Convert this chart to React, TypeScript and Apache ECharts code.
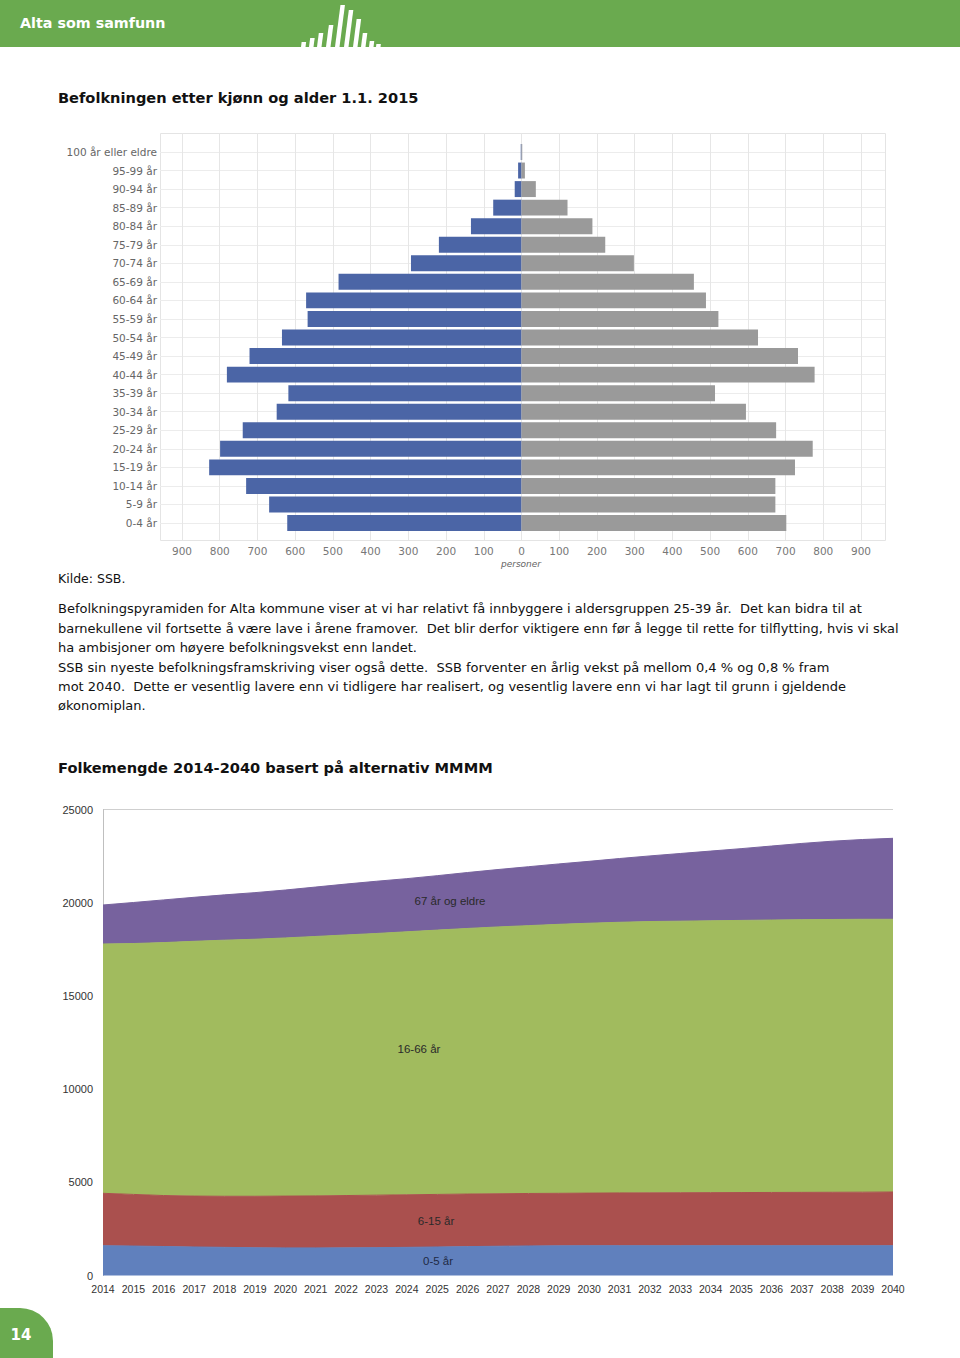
import React, { useEffect, useRef } from "react";
import * as echarts from "echarts";

// ---------- Population pyramid 1.1.2015 ----------
const ageGroups = [
  "0-4 år", "5-9 år", "10-14 år", "15-19 år", "20-24 år", "25-29 år", "30-34 år",
  "35-39 år", "40-44 år", "45-49 år", "50-54 år", "55-59 år", "60-64 år", "65-69 år",
  "70-74 år", "75-79 år", "80-84 år", "85-89 år", "90-94 år", "95-99 år", "100 år eller eldre",
];
const menCounts = [621, 669, 730, 828, 799, 739, 649, 618, 781, 721, 635, 567, 571, 485, 293, 219, 134, 75, 18, 9, 2];
const womenCounts = [702, 673, 673, 725, 772, 675, 595, 513, 777, 733, 627, 522, 489, 457, 298, 222, 188, 122, 38, 9, 2];

// ---------- Folkemengde 2014-2040 ----------
const years = [
  "2014", "2015", "2016", "2017", "2018", "2019", "2020", "2021", "2022", "2023", "2024", "2025", "2026", "2027",
  "2028", "2029", "2030", "2031", "2032", "2033", "2034", "2035", "2036", "2037", "2038", "2039", "2040",
];
const age0to5 = [1600, 1580, 1555, 1530, 1510, 1490, 1480, 1480, 1485, 1495, 1510, 1530, 1550, 1570, 1585, 1595, 1600, 1600, 1600, 1600, 1600, 1600, 1600, 1600, 1600, 1600, 1600];
const age6to15 = [2810, 2770, 2735, 2730, 2740, 2760, 2780, 2790, 2805, 2815, 2820, 2820, 2820, 2815, 2815, 2815, 2820, 2830, 2835, 2840, 2845, 2850, 2855, 2860, 2865, 2870, 2880];
const age16to66 = [13375, 13460, 13570, 13670, 13740, 13790, 13850, 13920, 13980, 14040, 14110, 14180, 14250, 14315, 14370, 14430, 14480, 14520, 14555, 14570, 14585, 14600, 14615, 14630, 14635, 14640, 14630];
const age67plus = [2092, 2200, 2290, 2360, 2430, 2500, 2570, 2650, 2730, 2800, 2850, 2920, 3000, 3080, 3160, 3240, 3320, 3420, 3520, 3630, 3740, 3850, 3970, 4090, 4200, 4280, 4345];

const seriesNames = ["0-5 år", "6-15 år", "16-66 år", "67 år og eldre"];

// ---------- Page texts ----------
const headerText = "Alta som samfunn";
const title1 = "Befolkningen etter kjønn og alder 1.1. 2015";
const sourceText = "Kilde: SSB.";
const axisName = "personer";
const paragraphLines = [
  "Befolkningspyramiden for Alta kommune viser at vi har relativt få innbyggere i aldersgruppen 25-39 år.  Det kan bidra til at",
  "barnekullene vil fortsette å være lave i årene framover.  Det blir derfor viktigere enn før å legge til rette for tilflytting, hvis vi skal",
  "ha ambisjoner om høyere befolkningsvekst enn landet.",
  "SSB sin nyeste befolkningsframskriving viser også dette.  SSB forventer en årlig vekst på mellom 0,4 % og 0,8 % fram",
  "mot 2040.  Dette er vesentlig lavere enn vi tidligere har realisert, og vesentlig lavere enn vi har lagt til grunn i gjeldende",
  "økonomiplan.",
];
const title2 = "Folkemengde 2014-2040 basert på alternativ MMMM";
const pageNumber = "14";

const GREEN = "#6aaa4f";
const BODY_FONT = "'DejaVu Sans', Verdana, sans-serif";
const CHART_FONT = "'Liberation Sans', Arial, sans-serif";

function txt(text: string, x: number, y: number, extra: any = {}) {
  return {
    type: "text",
    x,
    y,
    silent: true,
    z: extra.z ?? 50,
    style: {
      text,
      fill: extra.fill ?? "#111",
      fontSize: extra.fontSize ?? 12,
      fontFamily: extra.fontFamily ?? BODY_FONT,
      fontWeight: extra.fontWeight ?? "normal",
      fontStyle: extra.fontStyle ?? "normal",
      align: extra.align ?? "left",
      verticalAlign: "middle",
    },
  };
}

// logo strokes in header: [bottomX, topY]
const logoBars: [number, number][] = [
  [301, 42], [309, 38], [317, 33], [326, 25], [335, 5], [344, 10], [353, 19], [361, 33], [369, 41], [376, 44],
];

export default function App() {
  const ref = useRef<HTMLDivElement>(null);

  useEffect(() => {
    const chart = echarts.init(ref.current!, null, { renderer: "svg" });

    const logoEls = logoBars.map(([bx, ty]) => {
      const slant = (47 - ty) * 0.13;
      return {
        type: "polygon",
        silent: true,
        z: 10,
        shape: {
          points: [
            [bx, 47],
            [bx + 4.5, 47],
            [bx + 4.5 + slant, ty],
            [bx + slant, ty],
          ],
        },
        style: { fill: "#ffffff" },
      };
    });

    const graphicEls: any[] = [
      { type: "rect", silent: true, z: 5, shape: { x: 0, y: 0, width: 960, height: 47 }, style: { fill: GREEN } },
      ...logoEls,
      txt(headerText, 20, 23, { fill: "#ffffff", fontWeight: "bold", fontSize: 14.3 }),
      txt(title1, 58, 97, { fontWeight: "bold", fontSize: 14.6 }),
      {
        type: "rect",
        silent: true,
        z: 0,
        shape: { x: 160.5, y: 133.5, width: 725, height: 407 },
        style: { fill: "none", stroke: "#e4e4e4", lineWidth: 1 },
      },
      txt(axisName, 521, 564, { fill: "#666", fontSize: 9, fontStyle: "italic", align: "center" }),
      txt(sourceText, 58, 578, { fontSize: 12.5 }),
      ...paragraphLines.map((l, i) => txt(l, 58, [608, 628, 647, 667, 686, 705][i], { fontSize: 13 })),
      txt(title2, 58, 767, { fontWeight: "bold", fontSize: 14.6 }),
      // area labels
      txt(seriesNames[3], 450, 901, { fontFamily: CHART_FONT, fontSize: 11.5, fill: "#2a2a2a", align: "center", z: 100 }),
      txt(seriesNames[2], 419, 1049, { fontFamily: CHART_FONT, fontSize: 11.5, fill: "#2a2a2a", align: "center", z: 100 }),
      txt(seriesNames[1], 436, 1221, { fontFamily: CHART_FONT, fontSize: 11.5, fill: "#2a2a2a", align: "center", z: 100 }),
      txt(seriesNames[0], 438, 1261, { fontFamily: CHART_FONT, fontSize: 11.5, fill: "#1f2a44", align: "center", z: 100 }),
      // page number tab
      {
        type: "rect",
        silent: true,
        z: 5,
        shape: { x: 0, y: 1308, width: 53, height: 60, r: [0, 33, 0, 0] },
        style: { fill: GREEN },
      },
      txt(pageNumber, 21, 1335, { fill: "#ffffff", fontWeight: "bold", fontSize: 15, align: "center", z: 20 }),
    ];

    const option: any = {
      animation: false,
      backgroundColor: "#ffffff",
      textStyle: { fontFamily: CHART_FONT },
      grid: [
        { left: 182, top: 133, width: 679, height: 407 },
        { left: 182, top: 142.7, width: 679, height: 389.6 },
        { left: 160, top: 152, width: 725, height: 371 },
        { left: 103, top: 809.5, width: 790, height: 466 },
      ],
      xAxis: [
        {
          gridIndex: 0,
          type: "value",
          min: -900,
          max: 900,
          interval: 100,
          axisLine: { show: false },
          axisTick: { show: false },
          splitLine: { show: true, lineStyle: { color: "#e6e6e6", width: 1 } },
          axisLabel: {
            formatter: (v: number) => String(Math.abs(v)),
            color: "#777",
            fontFamily: BODY_FONT,
            fontSize: 10.5,
            margin: 5,
          },
        },
        { gridIndex: 1, type: "value", min: -900, max: 900, show: false },
        { gridIndex: 2, type: "value", min: 0, max: 1, show: false },
        {
          gridIndex: 3,
          type: "category",
          data: years,
          boundaryGap: false,
          axisLine: { show: false },
          axisTick: { show: false },
          splitLine: { show: false },
          axisLabel: { interval: 0, color: "#333", fontSize: 10.5, fontFamily: CHART_FONT, margin: 8 },
        },
      ],
      yAxis: [
        { gridIndex: 0, type: "value", min: 0, max: 1, show: false },
        {
          gridIndex: 1,
          type: "category",
          data: ageGroups,
          axisLine: { show: false },
          axisTick: { show: false },
          splitLine: { show: false },
          axisLabel: { interval: 0, margin: 25, color: "#666", fontSize: 10.5, fontFamily: BODY_FONT },
        },
        {
          gridIndex: 2,
          type: "category",
          data: ageGroups,
          boundaryGap: false,
          axisLine: { show: false },
          axisTick: { show: false },
          axisLabel: { show: false },
          splitLine: { show: true, interval: 0, lineStyle: { color: "#ececec", width: 1 } },
        },
        {
          gridIndex: 3,
          type: "value",
          min: 0,
          max: 25000,
          interval: 5000,
          axisLine: { show: true, lineStyle: { color: "#bfbfbf", width: 1 } },
          axisTick: { show: false },
          axisLabel: {
            formatter: (v: number) => String(v),
            color: "#333",
            fontSize: 11,
            fontFamily: CHART_FONT,
            margin: 10,
          },
          splitLine: {
            show: true,
            lineStyle: {
              color: ["rgba(0,0,0,0)", "rgba(0,0,0,0)", "rgba(0,0,0,0)", "rgba(0,0,0,0)", "rgba(0,0,0,0)", "#cfcfcf"],
              width: 1,
            },
          },
        },
      ],
      series: [
        {
          name: "Menn",
          type: "bar",
          xAxisIndex: 1,
          yAxisIndex: 1,
          stack: "pyr",
          barCategoryGap: "14%",
          data: menCounts.map((v) => -v),
          itemStyle: { color: "#4b65a6" },
        },
        {
          name: "Kvinner",
          type: "bar",
          xAxisIndex: 1,
          yAxisIndex: 1,
          stack: "pyr",
          barCategoryGap: "14%",
          data: womenCounts,
          itemStyle: { color: "#9a9a9a" },
        },
        ...[age0to5, age6to15, age16to66, age67plus].map((d, i) => {
          const col = ["#6080bd", "#aa504e", "#a1bb5e", "#77629e"][i];
          return {
            name: seriesNames[i],
            type: "line",
            xAxisIndex: 3,
            yAxisIndex: 3,
            stack: "folk",
            symbol: "none",
            data: d,
            lineStyle: { width: 1, color: col },
            areaStyle: { color: col, opacity: 1 },
          };
        }),
      ],
      graphic: { elements: graphicEls },
    };

    chart.setOption(option);
    return () => chart.dispose();
  }, []);

  return (
    <div
      ref={ref}
      style={{ position: "absolute", left: 0, top: 0, width: 960, height: 1358, background: "#ffffff" }}
    />
  );
}
